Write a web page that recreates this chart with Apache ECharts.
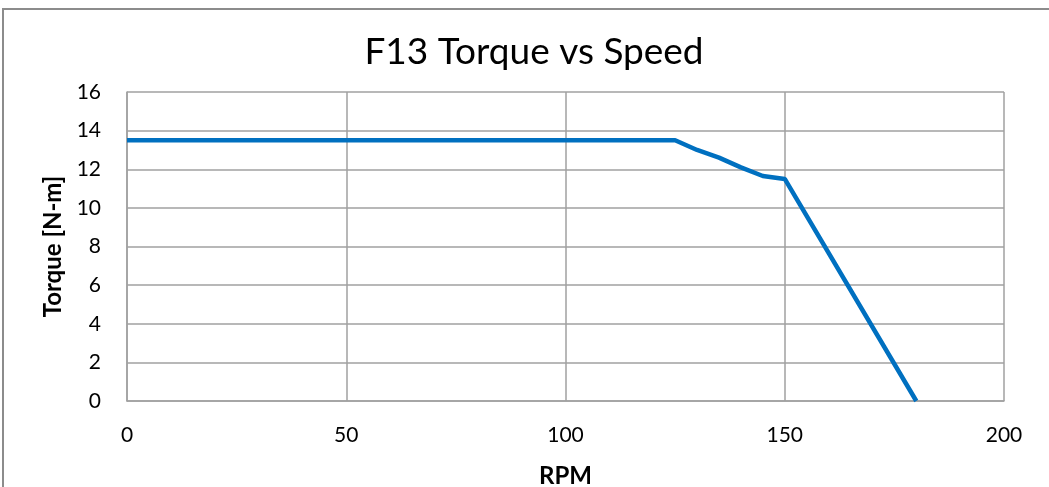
<!DOCTYPE html>
<html><head><meta charset="utf-8">
<script src="https://cdn.jsdelivr.net/npm/echarts@6/dist/echarts.min.js"></script>
<style>html,body{margin:0;padding:0;background:#fff}#c{width:1049px;height:487px}</style>
</head><body><div id="c"></div>
<script>
const rpm =    [0,    125,  130,  135,  140,  145,   150,  180];
const torque = [13.5, 13.5, 13.0, 12.6, 12.1, 11.65, 11.5, 0];
const xTicks = [0, 50, 100, 150, 200];
const yTicks = [0, 2, 4, 6, 8, 10, 12, 14, 16];
const title = 'F13 Torque vs Speed';
const xName = 'RPM';
const yName = 'Torque [N-m]';

const font = 'Lato, "Open Sans", sans-serif';
const chart = echarts.init(document.getElementById('c'), null, {renderer:'canvas'});
chart.setOption({
  animation:false,
  backgroundColor:'#fff',
  title:{text:title, left:529, top:29, textAlign:'center',
    textStyle:{fontFamily:font, fontSize:37, fontWeight:'normal', color:'#000'}},
  graphic:[{type:'rect', shape:{x:3, y:9, width:1100, height:600}, style:{fill:null, stroke:'#8c8c8c', lineWidth:2}, silent:true}],
  grid:{left:127, right:45, top:92, bottom:86, containLabel:false, outerBoundsMode:'none'},
  xAxis:{type:'value', min:xTicks[0], max:xTicks[xTicks.length-1], interval:50,
    name:xName, nameLocation:'middle', nameGap:63,
    nameTextStyle:{fontFamily:font, fontSize:24, fontWeight:'bold', color:'#000'},
    axisLine:{show:true, lineStyle:{color:'#a0a0a0', width:1.5}},
    axisTick:{show:false},
    axisLabel:{fontFamily:font, fontSize:21, color:'#000', margin:24},
    splitLine:{show:true, lineStyle:{color:'#a0a0a0', width:1.5}}},
  yAxis:{type:'value', min:yTicks[0], max:yTicks[yTicks.length-1], interval:2,
    name:yName, nameLocation:'middle', nameGap:60, nameRotate:90,
    nameTextStyle:{fontFamily:font, fontSize:24, fontWeight:'bold', color:'#000'},
    axisLine:{show:true, lineStyle:{color:'#a0a0a0', width:1.5}},
    axisTick:{show:false},
    axisLabel:{fontFamily:font, fontSize:21, color:'#000', margin:26},
    splitLine:{show:true, lineStyle:{color:'#a0a0a0', width:1.5}}},
  series:[{type:'line', data:rpm.map((r,i)=>[r, torque[i]]), showSymbol:false,
    lineStyle:{color:'#0070C0', width:4.5}, itemStyle:{color:'#0070C0'}}]
});
</script></body></html>
